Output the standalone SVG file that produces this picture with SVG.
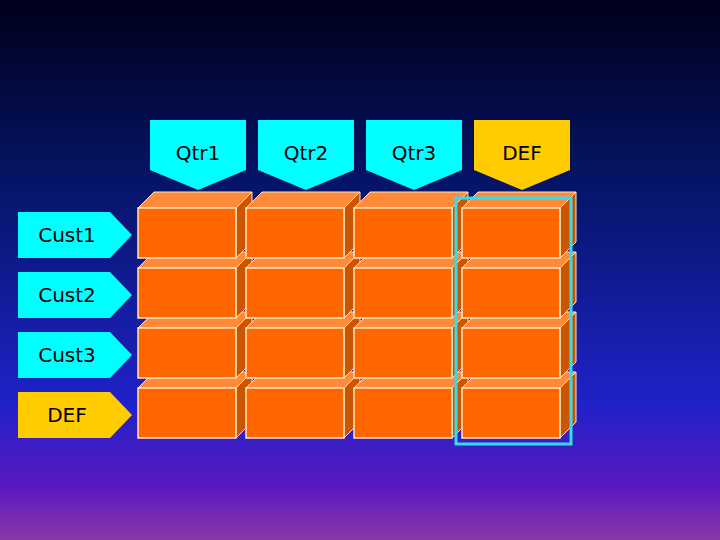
<svg xmlns="http://www.w3.org/2000/svg" width="720" height="540" viewBox="0 0 720 540">
<defs>
<linearGradient id="bg" x1="0" y1="0" x2="0" y2="1">
<stop offset="0" stop-color="#00001a"/>
<stop offset="0.35" stop-color="#06156a"/>
<stop offset="0.75" stop-color="#1f22c8"/>
<stop offset="0.9" stop-color="#5a18c0"/>
<stop offset="1" stop-color="#8a38a8"/>
</linearGradient>
<g id="cube">
<path d="M0,16 L16,0 L114,0 L98,16 Z" fill="#ff8a3a" stroke="#ffe8c0" stroke-width="1"/>
<path d="M98,16 L114,0 L114,50 L98,66 Z" fill="#cc5500" stroke="#ffe8c0" stroke-width="1"/>
<rect x="0" y="16" width="98" height="50" fill="#ff6600" stroke="#ffe8c0" stroke-width="1.5"/>
</g>
</defs>
<style>
text{font-family:"DejaVu Sans","Liberation Sans",sans-serif;font-size:20px;fill:#000;text-anchor:middle}
.c{fill:#00ffff}.y{fill:#ffcc00}
</style>
<rect width="720" height="540" fill="url(#bg)"/>
<g id="headers">
<g id="qtr1"><path class="c" d="M150,120 H246 V170 L198,190 L150,170 Z"/><text x="198" y="160">Qtr1</text></g>
<g id="qtr2"><path class="c" d="M258,120 H354 V170 L306,190 L258,170 Z"/><text x="306" y="160">Qtr2</text></g>
<g id="qtr3"><path class="c" d="M366,120 H462 V170 L414,190 L366,170 Z"/><text x="414" y="160">Qtr3</text></g>
<g id="defcol"><path class="y" d="M474,120 H570 V170 L522,190 L474,170 Z"/><text x="522" y="160">DEF</text></g>
</g>
<g id="rowlabels">
<g id="cust1"><path class="c" d="M18,212 H110 L132,235 L110,258 H18 Z"/><text x="67" y="242">Cust1</text></g>
<g id="cust2"><path class="c" d="M18,272 H110 L132,295 L110,318 H18 Z"/><text x="67" y="302">Cust2</text></g>
<g id="cust3"><path class="c" d="M18,332 H110 L132,355 L110,378 H18 Z"/><text x="67" y="362">Cust3</text></g>
<g id="defrow"><path class="y" d="M18,392 H110 L132,415 L110,438 H18 Z"/><text x="67" y="422">DEF</text></g>
</g>
<g id="cells">
<use href="#cube" x="138" y="372"/><use href="#cube" x="246" y="372"/><use href="#cube" x="354" y="372"/><use href="#cube" x="462" y="372"/>
<use href="#cube" x="138" y="312"/><use href="#cube" x="246" y="312"/><use href="#cube" x="354" y="312"/><use href="#cube" x="462" y="312"/>
<use href="#cube" x="138" y="252"/><use href="#cube" x="246" y="252"/><use href="#cube" x="354" y="252"/><use href="#cube" x="462" y="252"/>
<use href="#cube" x="138" y="192"/><use href="#cube" x="246" y="192"/><use href="#cube" x="354" y="192"/><use href="#cube" x="462" y="192"/>
</g>
<g id="highlight"><rect x="456" y="198" width="115" height="246" fill="none" stroke="#33ddee" stroke-width="3"/></g>
</svg>
